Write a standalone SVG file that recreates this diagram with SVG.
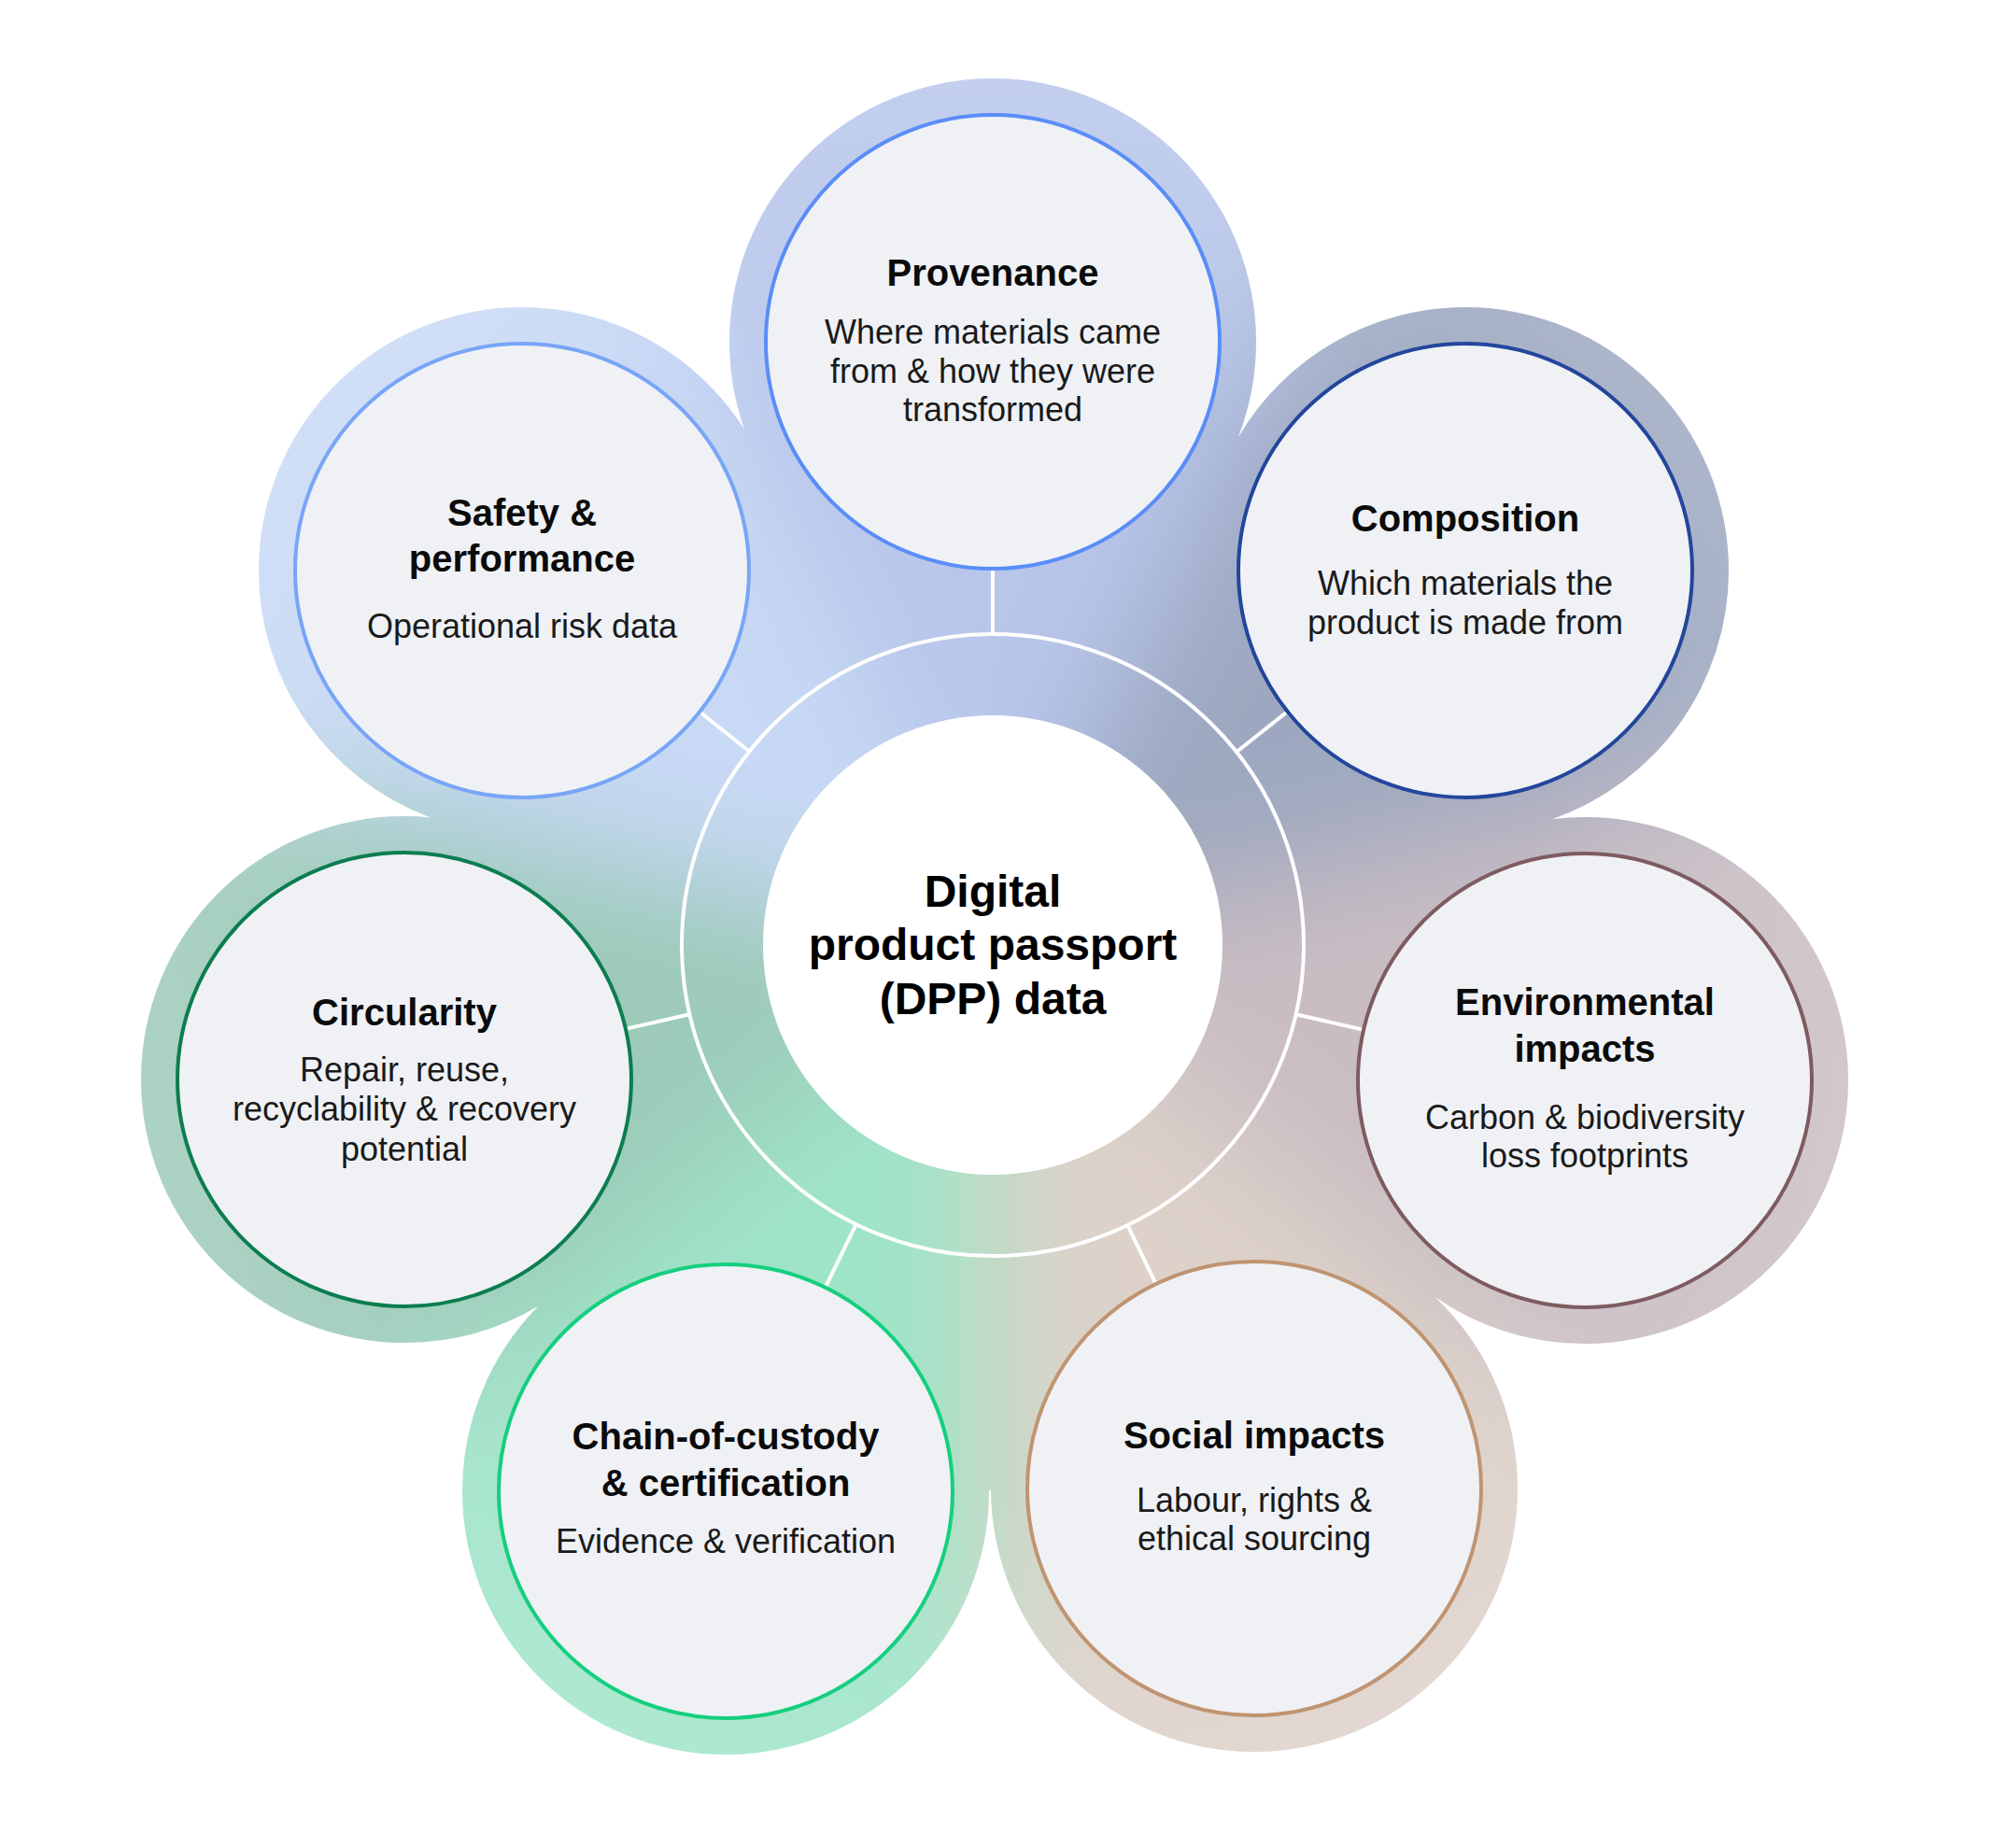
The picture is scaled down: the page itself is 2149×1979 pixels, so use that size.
<svg xmlns="http://www.w3.org/2000/svg" width="2149" height="1979" viewBox="0 0 2149 1979">
  <defs>
    <style>
      .node circle { fill: #eff1f5; stroke-width: 4; }
      .t { font-family: "Liberation Sans", Arial, sans-serif; font-weight: 700; font-size: 40px; fill: #0b0b0b; text-anchor: middle; }
      .b { font-family: "Liberation Sans", Arial, sans-serif; font-weight: 400; font-size: 36px; fill: #1a1a1a; text-anchor: middle; }
      .c { font-family: "Liberation Sans", Arial, sans-serif; font-weight: 700; font-size: 48px; fill: #000000; text-anchor: middle; }
      .conn line { stroke: #ffffff; stroke-width: 4; stroke-linecap: butt; }
    </style>
    <clipPath id="flower">
      <circle cx="1063" cy="1012" r="584"/>
      <circle cx="1063" cy="366" r="282"/>
      <circle cx="1569" cy="611" r="282"/>
      <circle cx="1697" cy="1157" r="282"/>
      <circle cx="1343" cy="1594" r="282"/>
      <circle cx="777" cy="1597" r="282"/>
      <circle cx="433" cy="1156" r="282"/>
      <circle cx="559" cy="611" r="282"/>
    </clipPath>
    <filter id="soft" filterUnits="userSpaceOnUse" x="-600" y="-600" width="3349" height="3179">
      <feGaussianBlur stdDeviation="65"/>
    </filter>
    <radialGradient id="lighten" gradientUnits="userSpaceOnUse" cx="1063" cy="1012" r="940">
      <stop offset="0.62" stop-color="#ffffff" stop-opacity="0"/>
      <stop offset="1" stop-color="#ffffff" stop-opacity="0.16"/>
    </radialGradient>
  </defs>

  <rect x="0" y="0" width="2149" height="1979" fill="#ffffff"/>

  <g id="background" clip-path="url(#flower)">
    <g filter="url(#soft)">
      <polygon points="1063,1012 455.6,-249.4 1670.4,-249.4" fill="#b8c6ea"/>
      <polygon points="1063,1012 1670.4,-249.4 2427.9,700.5" fill="#9da8c0"/>
      <polygon points="1063,1012 2427.9,700.5 2157.6,1884.9" fill="#c9bdc3"/>
      <polygon points="1063,1012 2157.6,1884.9 1063,2412" fill="#ddd1c9"/>
      <polygon points="1063,1012 1063,2412 -31.6,1884.9" fill="#9fe4c8"/>
      <polygon points="1063,1012 -31.6,1884.9 -301.9,700.5" fill="#9dcab9"/>
      <polygon points="1063,1012 -301.9,700.5 455.6,-249.4" fill="#c8d9f5"/>
    </g>
    <rect x="0" y="0" width="2149" height="1979" fill="url(#lighten)"/>
  </g>

  <g id="hub">
    <circle cx="1063" cy="1012" r="333" fill="none" stroke="#ffffff" stroke-width="4"/>
    <circle cx="1063" cy="1012" r="246" fill="#ffffff"/>
    <text class="c" x="1063" y="971">Digital</text>
    <text class="c" x="1063" y="1028">product passport</text>
    <text class="c" x="1063" y="1086">(DPP) data</text>
  </g>

  <g id="connectors" class="conn">
    <line x1="1063" y1="679" x2="1063" y2="611"/>
    <line x1="1324.0" y1="805.2" x2="1377.0" y2="763.2"/>
    <line x1="1387.6" y1="1086.2" x2="1458.2" y2="1102.4"/>
    <line x1="1207.4" y1="1312.1" x2="1236.8" y2="1373.2"/>
    <line x1="916.7" y1="1311.1" x2="884.6" y2="1376.9"/>
    <line x1="738.4" y1="1086.2" x2="671.9" y2="1101.4"/>
    <line x1="802.4" y1="804.7" x2="750.7" y2="763.5"/>
  </g>

  <g id="node-provenance" class="node">
    <circle cx="1063" cy="366" r="243" stroke="#5a8df8"/>
    <text class="t" x="1063" y="306">Provenance</text>
    <text class="b" x="1063" y="368">Where materials came</text>
    <text class="b" x="1063" y="410">from &amp; how they were</text>
    <text class="b" x="1063" y="451">transformed</text>
  </g>

  <g id="node-composition" class="node">
    <circle cx="1569" cy="611" r="243" stroke="#23469c"/>
    <text class="t" x="1569" y="569">Composition</text>
    <text class="b" x="1569" y="637">Which materials the</text>
    <text class="b" x="1569" y="679">product is made from</text>
  </g>

  <g id="node-environmental" class="node">
    <circle cx="1697" cy="1157" r="243" stroke="#7e5b60"/>
    <text class="t" x="1697" y="1087">Environmental</text>
    <text class="t" x="1697" y="1137">impacts</text>
    <text class="b" x="1697" y="1209">Carbon &amp; biodiversity</text>
    <text class="b" x="1697" y="1250">loss footprints</text>
  </g>

  <g id="node-social" class="node">
    <circle cx="1343" cy="1594" r="243" stroke="#c09470"/>
    <text class="t" x="1343" y="1551">Social impacts</text>
    <text class="b" x="1343" y="1619">Labour, rights &amp;</text>
    <text class="b" x="1343" y="1660">ethical sourcing</text>
  </g>

  <g id="node-chain" class="node">
    <circle cx="777" cy="1597" r="243" stroke="#14cf7e"/>
    <text class="t" x="777" y="1552">Chain-of-custody</text>
    <text class="t" x="777" y="1602">&amp; certification</text>
    <text class="b" x="777" y="1663">Evidence &amp; verification</text>
  </g>

  <g id="node-circularity" class="node">
    <circle cx="433" cy="1156" r="243" stroke="#0c7d4f"/>
    <text class="t" x="433" y="1098">Circularity</text>
    <text class="b" x="433" y="1158">Repair, reuse,</text>
    <text class="b" x="433" y="1200">recyclability &amp; recovery</text>
    <text class="b" x="433" y="1243">potential</text>
  </g>

  <g id="node-safety" class="node">
    <circle cx="559" cy="611" r="243" stroke="#78a5f7"/>
    <text class="t" x="559" y="563">Safety &amp;</text>
    <text class="t" x="559" y="612">performance</text>
    <text class="b" x="559" y="683">Operational risk data</text>
  </g>
</svg>
